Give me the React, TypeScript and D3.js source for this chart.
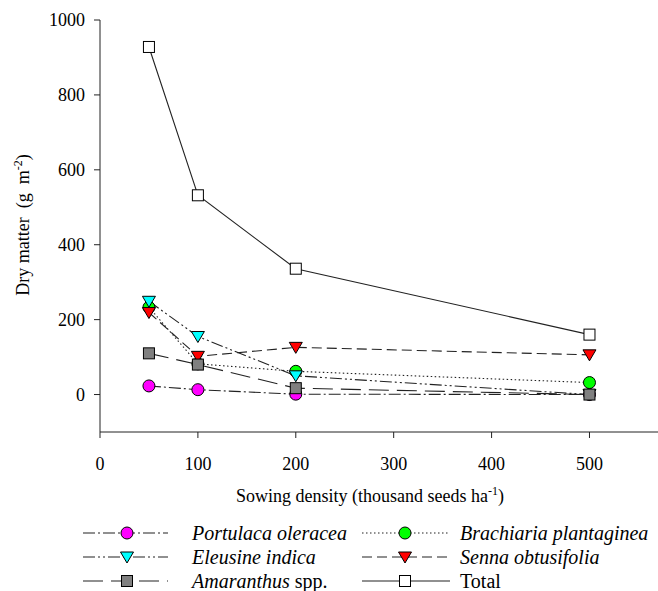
import React from "react";
import { scaleLinear, line } from "d3";

const densities = [50, 100, 200, 500];
const portulaca = [23, 13, 1, 0];
const brachiaria = [233, 82, 62, 32];
const eleusine = [249, 155, 50, 0];
const senna = [219, 102, 126, 106];
const amaranthus = [110, 80, 17, 0];
const total = [928, 532, 336, 160];

const xTicks = [0, 100, 200, 300, 400, 500];
const yTicks = [0, 200, 400, 600, 800, 1000];

const font = '"Liberation Serif", "DejaVu Serif", serif';

const series = [
  { name: "Portulaca oleracea", extra: "", values: portulaca, shape: "circle", fill: "#ff00ff", dash: "12,3,2,3" },
  { name: "Brachiaria plantaginea", extra: "", values: brachiaria, shape: "circle", fill: "#00ff00", dash: "1.5,2.5" },
  { name: "Eleusine indica", extra: "", values: eleusine, shape: "down", fill: "#00ffff", dash: "12,3,2,3,2,3" },
  { name: "Senna obtusifolia", extra: "", values: senna, shape: "down", fill: "#ff0000", dash: "10,5" },
  { name: "Amaranthus", extra: " spp.", values: amaranthus, shape: "square", fill: "#808080", dash: "20,8" },
  { name: "", extra: "Total", values: total, shape: "square", fill: "#ffffff", dash: "none" },
];

const x = scaleLinear().domain([0, 570]).range([100, 658]);
const y = scaleLinear().domain([-100, 1000]).range([432, 20]);

function Marker({ shape, fill, cx, cy }: { shape: string; fill: string; cx: number; cy: number }) {
  if (shape === "circle")
    return <circle cx={cx} cy={cy} r={6} fill={fill} stroke="#000" strokeWidth={1} />;
  if (shape === "square")
    return <rect x={cx - 5.5} y={cy - 5.5} width={11} height={11} fill={fill} stroke="#000" strokeWidth={1} />;
  return (
    <path
      d={`M${cx - 6.5},${cy - 5} L${cx + 6.5},${cy - 5} L${cx},${cy + 6} Z`}
      fill={fill}
      stroke="#000"
      strokeWidth={1}
    />
  );
}

export default function App() {
  const gen = line<number>()
    .x((_, i) => x(densities[i]))
    .y((d) => y(d));

  // legend layout: 2 columns, 3 rows
  const legendRows = [533, 557, 581];
  const legendCols = [
    { x1: 83, x2: 168, mx: 127, tx: 192 },
    { x1: 362, x2: 450, mx: 405, tx: 460 },
  ];

  return (
    <svg width={658} height={591} style={{ position: "absolute", left: 0, top: 0, fontFamily: font }}>
      <rect width={658} height={591} fill="#fff" />
      {/* axes */}
      <line x1={x(0)} x2={x(0)} y1={y(-100)} y2={y(1000)} stroke="#222" />
      <line x1={x(0)} x2={658} y1={y(-100)} y2={y(-100)} stroke="#222" />
      {yTicks.map((t) => (
        <g key={t}>
          <line x1={x(0) - 6} x2={x(0)} y1={y(t)} y2={y(t)} stroke="#222" />
          <text x={x(0) - 15} y={y(t)} dy="0.35em" textAnchor="end" fontSize={18}>
            {t}
          </text>
        </g>
      ))}
      {xTicks.map((t) => (
        <g key={t}>
          <line x1={x(t)} x2={x(t)} y1={y(-100)} y2={y(-100) + 6} stroke="#222" />
          <text x={x(t)} y={470} textAnchor="middle" fontSize={18}>
            {t}
          </text>
        </g>
      ))}
      <text x={370} y={502} textAnchor="middle" fontSize={18}>
        Sowing density (thousand seeds ha
        <tspan fontSize={12} dy={-7}>-1</tspan>
        <tspan dy={7}>)</tspan>
      </text>
      <text transform="translate(29,225) rotate(-90)" textAnchor="middle" fontSize={18} style={{ whiteSpace: "pre" }}>
        {"Dry matter  (g  m"}
        <tspan fontSize={12} dy={-7}>-2</tspan>
        <tspan dy={7}>)</tspan>
      </text>

      {/* lines */}
      {series.map((s, i) => (
        <path key={i} d={gen(s.values) || ""} fill="none" stroke="#222" strokeWidth={1.1} strokeDasharray={s.dash} />
      ))}
      {/* markers */}
      {series.map((s, i) =>
        s.values.map((v, j) => <Marker key={`${i}-${j}`} shape={s.shape} fill={s.fill} cx={x(densities[j])} cy={y(v)} />)
      )}

      {/* legend */}
      {series.map((s, i) => {
        const col = legendCols[i % 2];
        const ry = legendRows[Math.floor(i / 2)];
        return (
          <g key={`lg-${i}`}>
            <line x1={col.x1} x2={col.x2} y1={ry} y2={ry} stroke="#222" strokeWidth={1.1} strokeDasharray={s.dash} />
            <Marker shape={s.shape} fill={s.fill} cx={col.mx} cy={ry} />
            <text x={col.tx} y={ry} dy="0.35em" fontSize={20}>
              <tspan fontStyle="italic">{s.name}</tspan>
              {s.extra}
            </text>
          </g>
        );
      })}
    </svg>
  );
}
